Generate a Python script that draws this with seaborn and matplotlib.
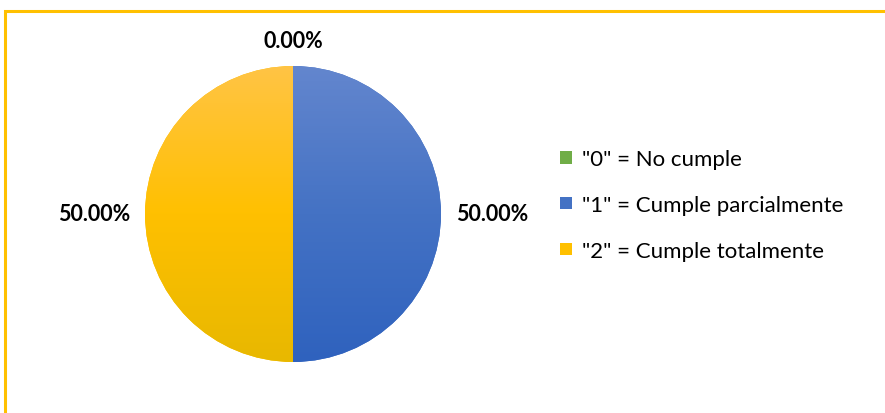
import numpy as np
import matplotlib
matplotlib.use("Agg")
import matplotlib.pyplot as plt
import seaborn as sns
from matplotlib.patches import Rectangle, Patch
from matplotlib.colors import LinearSegmentedColormap

categories = ['"0" = No cumple', '"1" = Cumple parcialmente', '"2" = Cumple totalmente']
values = [0.0, 50.0, 50.0]
base_colors = ["#70AD47", "#4472C4", "#FFC000"]
# top / middle / bottom shades for the vertical gradient of each slice
gradients = [
    ["#8CC168", "#70AD47", "#5E9A38"],
    ["#6386CE", "#4472C4", "#2F62BE"],
    ["#FFC445", "#FFC000", "#E8B800"],
]

sns.set_theme(style="white")
plt.rcParams["font.family"] = ["Lato", "DejaVu Sans"]

W, H = 885, 414
fig = plt.figure(figsize=(W / 100, H / 100), dpi=100)
fig.patch.set_facecolor("white")

# outer frame (left and top edges visible)
fig.patches.append(Rectangle((5 / W, -0.2), 1.3, (H - 12) / H + 0.2,
                             transform=fig.transFigure, fill=False,
                             edgecolor="#FFC000", linewidth=2.2, zorder=0))

# square axes centred on the pie
R_px = 148
cx, cy = 293, H - 215
half = 1.3 * R_px
ax = fig.add_axes([(cx - half) / W, (cy - half) / H, 2 * half / W, 2 * half / H])
ax.set_xlim(-1.3, 1.3)
ax.set_ylim(-1.3, 1.3)
ax.set_aspect("equal")
ax.axis("off")

wedges, _ = ax.pie(values, colors=base_colors, startangle=90, counterclock=False,
                   radius=1.0, wedgeprops=dict(linewidth=0))

grad = np.linspace(0, 1, 256).reshape(-1, 1)
for w, shades, v in zip(wedges, gradients, values):
    if v <= 0:
        continue
    cmap = LinearSegmentedColormap.from_list("g", shades[::-1])
    im = ax.imshow(grad, cmap=cmap, extent=(-1, 1, -1, 1), origin="lower",
                   aspect="auto", zorder=w.get_zorder() + 0.1, interpolation="bilinear")
    im.set_clip_path(w)
ax.set_xlim(-1.3, 1.3)
ax.set_ylim(-1.3, 1.3)

# percentage labels just outside each slice
for w, v in zip(wedges, values):
    ang = np.deg2rad((w.theta1 + w.theta2) / 2)
    c, s = np.cos(ang), np.sin(ang)
    ha = "left" if c > 0.1 else ("right" if c < -0.1 else "center")
    va = "bottom" if s > 0.1 else ("top" if s < -0.1 else "center")
    ax.text(1.1 * c, 1.1 * s, f"{v:.2f}%", ha=ha, va=va, fontsize=15.5,
            fontweight="bold", color="#000000", clip_on=False)

handles = [Patch(facecolor=col, edgecolor="none") for col in base_colors]
fig.legend(handles, categories, loc="center left",
           bbox_to_anchor=(540 / W, 1 - 206 / H), frameon=False,
           fontsize=16, handlelength=0.55, handleheight=0.48,
           handletextpad=0.45, labelspacing=1.16, labelcolor="#000000")

fig.savefig("out.png", dpi=100)
